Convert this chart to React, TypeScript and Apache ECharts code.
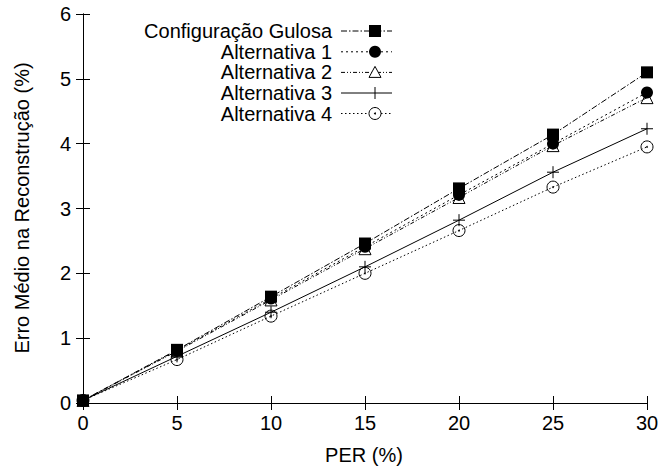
import React, { useEffect, useRef } from "react";
import * as echarts from "echarts";

const perValues = [0, 5, 10, 15, 20, 25, 30];
const seriesNames = [
  "Configuração Gulosa",
  "Alternativa 1",
  "Alternativa 2",
  "Alternativa 3",
  "Alternativa 4",
];
const gulosa = [0.04, 0.82, 1.64, 2.46, 3.31, 4.14, 5.1];
const alt1 = [0.04, 0.81, 1.61, 2.41, 3.21, 4.0, 4.79];
const alt2 = [0.04, 0.8, 1.59, 2.38, 3.17, 3.97, 4.71];
const alt3 = [0.04, 0.72, 1.4, 2.1, 2.82, 3.56, 4.23];
const alt4 = [0.04, 0.67, 1.34, 2.0, 2.66, 3.33, 3.95];
const xTicks = [0, 5, 10, 15, 20, 25, 30];
const yTicks = [0, 1, 2, 3, 4, 5, 6];

const FONT = "Liberation Sans, Arial, Helvetica, sans-serif";
const dashes: (number[] | "solid")[] = [
  [6, 2, 1.5, 2],
  [2, 3],
  [4, 2, 1, 2, 1, 2],
  "solid",
  [1.5, 2.5],
];

export default function App() {
  const ref = useRef<HTMLDivElement>(null);
  useEffect(() => {
    if (!ref.current) return;
    const chart = echarts.init(ref.current, null, { renderer: "svg" });
    const toPairs = (ys: number[]) => perValues.map((x, i) => [x, ys[i]]);
    const all = [gulosa, alt1, alt2, alt3, alt4];
    const symbols = ["rect", "circle", "triangle", "path://M0,5L10,5M5,0L5,10", "circle"];
    const symbolFill = ["#000", "#000", "rgba(0,0,0,0)", "rgba(0,0,0,0)", "rgba(0,0,0,0)"];
    const symbolSizes = [12, 12, 12, 12, 12];

    const series: any[] = all.map((ys, i) => ({
      name: seriesNames[i],
      type: "line",
      data: toPairs(ys),
      symbol: symbols[i],
      symbolSize: symbolSizes[i],
      showAllSymbol: true,
      lineStyle: { color: "#000", width: 1, type: dashes[i] },
      itemStyle: {
        color: symbolFill[i],
        borderColor: "#000",
        borderWidth: i === 0 || i === 1 ? 0 : 1,
      },
      emphasis: { disabled: true },
      z: 2 + i,
    }));
    series.push({
      type: "scatter",
      data: toPairs(alt4),
      symbol: "circle",
      symbolSize: 2,
      itemStyle: { color: "#000" },
      z: 10,
      silent: true,
    });

    const legendX = 332;
    const lineStart = 341;
    const lineEnd = 392;
    const markX = 375;
    const rows = [31, 51.8, 72.4, 93, 113.5];
    const legendEls: any[] = [];
    rows.forEach((ry, i) => {
      legendEls.push({
        type: "text",
        x: legendX,
        y: ry,
        style: {
          text: seriesNames[i],
          font: `20px ${FONT}`,
          fill: "#000",
          align: "right",
          verticalAlign: "middle",
        },
      });
      legendEls.push({
        type: "line",
        shape: { x1: lineStart, y1: ry, x2: lineEnd, y2: ry },
        style: {
          stroke: "#000",
          lineWidth: 1,
          lineDash: dashes[i] === "solid" ? null : dashes[i],
        },
      });
    });
    legendEls.push({
      type: "rect",
      shape: { x: markX - 6, y: rows[0] - 6, width: 12, height: 12 },
      style: { fill: "#000" },
    });
    legendEls.push({
      type: "circle",
      shape: { cx: markX, cy: rows[1], r: 6 },
      style: { fill: "#000" },
    });
    legendEls.push({
      type: "polygon",
      shape: {
        points: [
          [markX, rows[2] - 6],
          [markX + 6, rows[2] + 5],
          [markX - 6, rows[2] + 5],
        ],
      },
      style: { fill: "#fff", stroke: "#000", lineWidth: 1 },
    });
    legendEls.push({
      type: "line",
      shape: { x1: markX, y1: rows[3] - 6, x2: markX, y2: rows[3] + 6 },
      style: { stroke: "#000", lineWidth: 1 },
    });
    legendEls.push({
      type: "circle",
      shape: { cx: markX, cy: rows[4], r: 6 },
      style: { fill: "#fff", stroke: "#000", lineWidth: 1 },
    });
    legendEls.push({
      type: "circle",
      shape: { cx: markX, cy: rows[4], r: 1 },
      style: { fill: "#000" },
    });

    const axisCommon = {
      type: "value",
      axisLine: { show: true, lineStyle: { color: "#000", width: 1 } },
      axisTick: { show: true, inside: true, length: 7, lineStyle: { color: "#000" } },
      splitLine: { show: false },
    };

    chart.setOption({
      animation: false,
      backgroundColor: "#fff",
      grid: { left: 83, right: 15, top: 14, bottom: 66 },
      xAxis: [
        {
          ...axisCommon,
          position: "bottom",
          min: 0,
          max: 30,
          interval: 5,
          axisLabel: {
            color: "#000",
            fontSize: 20,
            fontFamily: FONT,
            margin: 10,
            formatter: (v: number) => (xTicks.includes(v) ? String(v) : ""),
          },
        },
        {
          ...axisCommon,
          position: "top",
          min: 0,
          max: 30,
          interval: 5,
          axisLabel: { show: false },
        },
      ],
      yAxis: [
        {
          ...axisCommon,
          position: "left",
          min: 0,
          max: 6,
          interval: 1,
          axisLabel: {
            color: "#000",
            fontSize: 20,
            fontFamily: FONT,
            margin: 12,
            formatter: (v: number) => (yTicks.includes(v) ? String(v) : ""),
          },
        },
        {
          ...axisCommon,
          position: "right",
          min: 0,
          max: 6,
          interval: 1,
          axisLabel: { show: false },
        },
      ],
      series,
      graphic: [
        {
          type: "text",
          x: 364,
          y: 455,
          style: {
            text: "PER (%)",
            font: `20px ${FONT}`,
            fill: "#000",
            align: "center",
            verticalAlign: "middle",
          },
        },
        {
          type: "text",
          x: 22,
          y: 208,
          rotation: Math.PI / 2,
          style: {
            text: "Erro Médio na Reconstrução (%)",
            font: `20px ${FONT}`,
            fill: "#000",
            align: "center",
            verticalAlign: "middle",
          },
        },
        ...legendEls,
      ],
    });
    return () => chart.dispose();
  }, []);
  return (
    <div
      ref={ref}
      style={{ position: "fixed", left: 0, top: 0, width: 662, height: 469 }}
    />
  );
}
